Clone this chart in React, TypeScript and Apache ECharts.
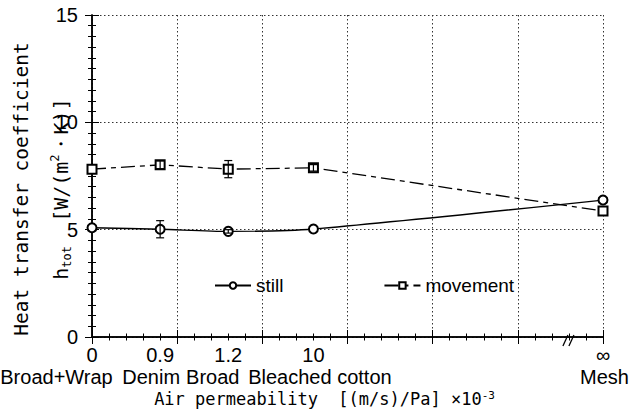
import React, { useEffect, useRef } from 'react';
import * as echarts from 'echarts';

// ---- data ----
const xPositions = [0, 0.8, 1.6, 2.6, 6];
const permeabilityLabels = ['0', '0.9', '1.2', '10', '∞'];
const fabricLabels = ['Broad+Wrap', 'Denim', 'Broad', 'Bleached cotton', 'Mesh'];
const stillValues = [5.09, 5.02, 4.92, 5.03, 6.38];
const movementValues = [7.82, 8.02, 7.82, 7.88, 5.87];
const stillErrors = [0, 0.4, 0.08, 0, 0];
const movementErrors = [0, 0.18, 0.4, 0.15, 0];
const seriesNames = ['still', 'movement'];

// ---- layout (not data): horizontal shift of each fabric name from its tick ----
const fabricShift = [-35.5, -9, -15.5, 6.5, 1.5];

const SANS = '"Liberation Sans", Arial, Helvetica, sans-serif';
const MONO = '"DejaVu Sans Mono", monospace';

export default function App() {
  const ref = useRef<HTMLDivElement>(null);

  useEffect(() => {
    if (!ref.current) return;
    const chart = echarts.init(ref.current, undefined, { renderer: 'svg' });

    const errData = (vals: number[], errs: number[]) =>
      xPositions
        .map((x, i) => [x, vals[i] - errs[i], vals[i] + errs[i], errs[i]])
        .filter((d) => d[3] > 0);

    const renderErr = (params: any, api: any) => {
      const x = api.value(0);
      const lo = api.coord([x, api.value(1)]);
      const hi = api.coord([x, api.value(2)]);
      const cap = 4;
      const st = { stroke: '#000', lineWidth: 1.2 };
      return {
        type: 'group',
        children: [
          { type: 'line', shape: { x1: lo[0], y1: lo[1], x2: hi[0], y2: hi[1] }, style: st },
          { type: 'line', shape: { x1: lo[0] - cap, y1: lo[1], x2: lo[0] + cap, y2: lo[1] }, style: st },
          { type: 'line', shape: { x1: hi[0] - cap, y1: hi[1], x2: hi[0] + cap, y2: hi[1] }, style: st },
        ],
      };
    };

    const axisLineStyle = { color: '#000', width: 1.5 };

    chart.setOption({
      animation: false,
      backgroundColor: '#fff',
      grid: { left: 92, right: 26, top: 15, bottom: 73, containLabel: false, outerBoundsMode: 'none' },
      legend: {
        data: seriesNames,
        left: 209,
        top: 271,
        itemWidth: 36,
        itemHeight: 8,
        itemGap: 100,
        textStyle: { fontSize: 19, fontFamily: SANS, color: '#000' },
      },
      xAxis: [
        {
          type: 'value',
          min: 0,
          max: 6,
          interval: 1,
          position: 'bottom',
          axisLine: { show: true, lineStyle: axisLineStyle },
          axisTick: { show: true, inside: true, length: 7, lineStyle: { color: '#000' } },
          minorTick: { show: true, splitNumber: 5, length: 3.5, lineStyle: { color: '#000' } },
          splitLine: { show: true, lineStyle: { color: '#333', type: [1.5, 2.5], width: 1 } },
          axisLabel: {
            show: true,
            customValues: xPositions,
            showMinLabel: true,
            showMaxLabel: true,
            hideOverlap: false,
            margin: 7,
            fontSize: 20,
            fontFamily: SANS,
            color: '#000',
            lineHeight: 22,
            formatter: (v: number) => {
              const i = xPositions.indexOf(v);
              return i < 0 ? '' : permeabilityLabels[i];
            },
          },
          name: '{t|Air permeability  [(m/s)/Pa] ×10}{s|-3}',
          nameLocation: 'middle',
          nameGap: 53,
          nameTextStyle: {
            padding: [0, 46, 0, 0],
            rich: {
              t: { fontSize: 17, fontFamily: MONO, color: '#000', lineHeight: 18 },
              s: { fontSize: 11, fontFamily: MONO, color: '#000', lineHeight: 10, verticalAlign: 'top' },
            },
          },
        },
        {
          type: 'value',
          min: 0,
          max: 6,
          interval: 1,
          position: 'top',
          axisLine: { show: true, lineStyle: axisLineStyle },
          axisTick: { show: true, inside: true, length: 7, lineStyle: { color: '#000' } },
          minorTick: { show: true, splitNumber: 5, length: 3.5, lineStyle: { color: '#000' } },
          splitLine: { show: false },
          axisLabel: { show: false },
        },
      ],
      yAxis: [
        {
          type: 'value',
          min: 0,
          max: 15,
          interval: 5,
          position: 'left',
          axisLine: { show: true, lineStyle: axisLineStyle },
          axisTick: { show: true, inside: true, length: 7, lineStyle: { color: '#000' } },
          minorTick: { show: true, splitNumber: 10, length: 4, lineStyle: { color: '#000' } },
          splitLine: { show: true, lineStyle: { color: '#333', type: [1.5, 2.5], width: 1 } },
          axisLabel: { fontSize: 20, fontFamily: SANS, color: '#000', margin: 14, showMinLabel: true, showMaxLabel: true },
          name:
            '{a|Heat transfer coefficient}\n{h|h}{sub|tot}{b|  [W/(m}{sup|2}{b|・K)]}',
          nameLocation: 'middle',
          nameRotate: 90,
          nameGap: 19,
          nameMoveOverlap: false,
          nameTextStyle: {
            padding: [0, 26, 0, 0],
            rich: {
              a: { fontSize: 19.5, fontFamily: MONO, color: '#000', lineHeight: 56, align: 'center' },
              h: { fontSize: 20, fontFamily: MONO, color: '#000', lineHeight: 24, align: 'center' },
              b: { fontSize: 20, fontFamily: MONO, color: '#000', lineHeight: 24, align: 'center' },
              sub: { fontSize: 12, fontFamily: MONO, color: '#000', lineHeight: 14, verticalAlign: 'bottom', align: 'center' },
              sup: { fontSize: 12, fontFamily: MONO, color: '#000', lineHeight: 14, verticalAlign: 'top', align: 'center' },
            },
          },
        },
        {
          type: 'value',
          min: 0,
          max: 15,
          interval: 5,
          position: 'right',
          axisLine: { show: true, lineStyle: axisLineStyle },
          axisTick: { show: true, inside: true, length: 7, lineStyle: { color: '#000' } },
          minorTick: { show: true, splitNumber: 10, length: 4, lineStyle: { color: '#000' } },
          splitLine: { show: false },
          axisLabel: { show: false },
        },
      ],
      series: [
        {
          name: seriesNames[0],
          type: 'line',
          data: xPositions.map((x, i) => [x, stillValues[i]]),
          smooth: 0.25,
          symbol: 'emptyCircle',
          symbolSize: 9,
          lineStyle: { color: '#000', width: 1.3, type: 'solid' },
          itemStyle: { color: '#000', borderColor: '#000', borderWidth: 1.3 },
          z: 3,
        },
        {
          name: seriesNames[1],
          type: 'line',
          data: xPositions.map((x, i) => [x, movementValues[i]]),
          symbol: 'emptyRect',
          symbolSize: 9,
          lineStyle: { color: '#000', width: 1.3, type: [14, 5, 5, 5] },
          itemStyle: { color: '#000', borderColor: '#000', borderWidth: 1.3 },
          z: 3,
        },
        {
          type: 'custom',
          renderItem: renderErr,
          data: errData(stillValues, stillErrors),
          encode: { x: 0, y: [1, 2] },
          z: 5,
          silent: true,
        },
        {
          type: 'custom',
          renderItem: renderErr,
          data: errData(movementValues, movementErrors),
          encode: { x: 0, y: [1, 2] },
          z: 5,
          silent: true,
        },
      ],
    });

    // fabric names under the tick numbers, placed through the x scale
    const baseY = chart.convertToPixel({ yAxisIndex: 0 }, 0) as number;
    const names = fabricLabels.map((t, i) => ({
      type: 'text',
      x: (chart.convertToPixel({ xAxisIndex: 0 }, xPositions[i]) as number) + fabricShift[i],
      y: baseY + 40,
      style: {
        text: t,
        fontSize: 20,
        fontFamily: SANS,
        fill: '#000',
        align: 'center',
        verticalAlign: 'middle',
      },
    }));
    // axis break mark near the right end of the x axis
    const bx = chart.convertToPixel({ xAxisIndex: 0 }, 5.6) as number;
    const brk = [0, 6].map((d) => ({
      type: 'line',
      shape: { x1: bx - 6 + d, y1: baseY + 9, x2: bx - 1 + d, y2: baseY - 2 },
      style: { stroke: '#000', lineWidth: 1.3 },
    }));
    chart.setOption({ graphic: [...names, ...brk] });

    return () => chart.dispose();
  }, []);

  return (
    <div
      ref={ref}
      style={{ position: 'fixed', left: 0, top: 0, width: 629, height: 410, background: '#fff' }}
    />
  );
}
